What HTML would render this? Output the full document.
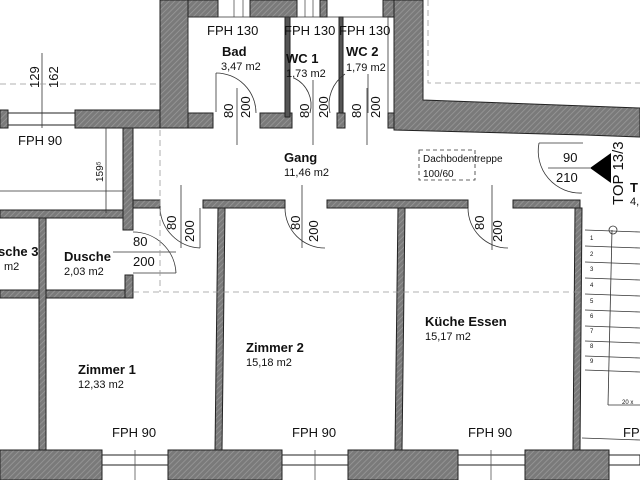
<!DOCTYPE html>
<html><head><meta charset="utf-8"><style>
html,body{margin:0;padding:0;background:#fff}
svg{display:block}
text{font-family:"Liberation Sans",sans-serif;fill:#111}
.b{font-weight:bold;font-size:13px}
.s{font-size:11px}
.m{font-size:13px}
</style></head><body>
<svg width="640" height="480" viewBox="0 0 640 480" xmlns="http://www.w3.org/2000/svg">
<defs>
<pattern id="h" width="4" height="4" patternUnits="userSpaceOnUse" patternTransform="rotate(45)">
<rect width="4" height="4" fill="#7a7a7a"/><line x1="0" y1="0" x2="0" y2="4" stroke="#9a9a9a" stroke-width="1.5"/>
</pattern>
</defs>
<g fill="url(#h)" stroke="#222" stroke-width="1">
<rect x="0" y="110" width="8" height="18"/>
<rect x="75" y="110" width="113" height="18"/>
<rect x="160" y="0" width="28" height="128"/>
<rect x="188" y="0" width="30" height="17"/>
<rect x="188" y="113" width="25" height="15"/>
<rect x="260" y="113" width="32" height="15"/>
<rect x="250" y="0" width="47" height="17"/>
<rect x="320" y="0" width="7" height="17"/>
<rect x="383" y="0" width="40" height="17"/>
<rect x="337" y="113" width="8" height="15"/>
<rect x="388" y="113" width="6" height="15"/>
<polygon points="394,0 423,0 423,100 640,108 640,137 585,135 394,130"/>
<rect x="123" y="128" width="10" height="102"/>
<rect x="133" y="200" width="27" height="8"/>
<rect x="203" y="200" width="82" height="8"/>
<rect x="327" y="200" width="141" height="8"/>
<rect x="513" y="200" width="67" height="8"/>
<rect x="0" y="210" width="123" height="8"/>
<rect x="125" y="275" width="8" height="23"/>
<rect x="0" y="290" width="125" height="8"/>
<rect x="39" y="218" width="7" height="232"/>
<polygon points="218,208 225,208 222,450 215,450"/>
<polygon points="398,208 405,208 402,450 395,450"/>
<polygon points="575,208 582,208 580,450 573,450"/>
<rect x="0" y="450" width="102" height="30"/>
<rect x="168" y="450" width="114" height="30"/>
<rect x="348" y="450" width="110" height="30"/>
<rect x="525" y="450" width="84" height="30"/>
</g>
<g fill="#fff" stroke="#222" stroke-width="1">
<rect x="8" y="113" width="67" height="12"/>
<rect x="102" y="455" width="66" height="10"/>
<rect x="282" y="455" width="66" height="10"/>
<rect x="458" y="455" width="67" height="10"/>
<rect x="609" y="455" width="31" height="10"/>
</g>
<g stroke="#555" stroke-width="0.8">
<line x1="135" y1="450" x2="135" y2="480"/><line x1="315" y1="450" x2="315" y2="480"/><line x1="491" y1="450" x2="491" y2="480"/>
<line x1="234" y1="0" x2="234" y2="17"/><line x1="243" y1="0" x2="243" y2="17"/>
<line x1="305" y1="0" x2="305" y2="17"/><line x1="313" y1="0" x2="313" y2="17"/>
</g>
<g fill="#555" stroke="#222">
<rect x="285" y="17" width="5" height="100"/>
<rect x="339" y="17" width="4" height="96"/>
</g>
<g stroke="#333" stroke-width="0.8" fill="none">
<line x1="188" y1="17" x2="388" y2="17"/>
<line x1="188" y1="17" x2="188" y2="113"/>
<line x1="388" y1="17" x2="388" y2="113"/>
<path d="M216 73 A40 40 0 0 1 256 113"/><line x1="216" y1="73" x2="216" y2="112"/><line x1="237" y1="88" x2="237" y2="145"/>
<path d="M294 78 A30 30 0 0 1 310 113"/><line x1="313" y1="80" x2="313" y2="145"/>
<path d="M345 74 A37 37 0 0 0 330 113"/><line x1="368" y1="74" x2="368" y2="113"/><line x1="367" y1="88" x2="367" y2="145"/>
<path d="M160 208 A42 42 0 0 0 200 248"/><line x1="200" y1="208" x2="200" y2="248"/><line x1="181" y1="185" x2="181" y2="248"/>
<path d="M285 208 A40 40 0 0 0 325 248"/><line x1="302" y1="185" x2="302" y2="248"/>
<path d="M468 208 A40 40 0 0 0 508 248"/><line x1="492" y1="185" x2="492" y2="250"/>
<path d="M133 232 A43 43 0 0 1 176 273"/><line x1="113" y1="252" x2="176" y2="252"/><line x1="133" y1="273" x2="176" y2="273"/>
<path d="M539 143 A42 42 0 0 0 582 193"/><line x1="539" y1="143" x2="583" y2="143"/><line x1="548" y1="168" x2="590" y2="168"/>
<line x1="42" y1="53" x2="42" y2="128"/>
<line x1="106" y1="128" x2="106" y2="213"/>
<line x1="0" y1="191" x2="126" y2="191"/>
<rect x="419" y="150" width="56" height="30" stroke-dasharray="4,3"/>
</g>
<g stroke="#999" stroke-width="0.8" stroke-dasharray="6,4" fill="none">
<line x1="0" y1="84" x2="160" y2="84"/>
<line x1="160" y1="130" x2="160" y2="292"/>
<line x1="133" y1="292" x2="580" y2="292"/>
<polyline points="428,0 428,83 640,83"/>
</g>
<g stroke="#333" stroke-width="0.8" fill="none">
<line x1="585" y1="230" x2="640" y2="232"/>
<line x1="585" y1="246" x2="640" y2="248"/>
<line x1="585" y1="262" x2="640" y2="264"/>
<line x1="585" y1="278" x2="640" y2="280"/>
<line x1="585" y1="294" x2="640" y2="296"/>
<line x1="585" y1="310" x2="640" y2="312"/>
<line x1="585" y1="326" x2="640" y2="328"/>
<line x1="585" y1="341" x2="640" y2="343"/>
<line x1="585" y1="356" x2="640" y2="358"/>
<line x1="585" y1="370" x2="640" y2="372"/>
<line x1="612" y1="230" x2="608" y2="405"/><line x1="608" y1="405" x2="640" y2="405"/>
<circle cx="613" cy="230" r="4"/>
<line x1="582" y1="438" x2="640" y2="440"/>
</g>
<g font-size="6" font-family="Liberation Sans">
<text x="590" y="240">1</text><text x="590" y="256">2</text><text x="590" y="271">3</text><text x="590" y="287">4</text><text x="590" y="303">5</text><text x="590" y="318">6</text><text x="590" y="333">7</text><text x="590" y="348">8</text><text x="590" y="363">9</text><text x="622" y="404">20 x</text>
</g>
<polygon points="590,168 611,153 611,183" fill="#000"/>
<text class="m" x="207" y="35">FPH 130</text>
<text class="m" x="284" y="35">FPH 130</text>
<text class="m" x="339" y="35">FPH 130</text>
<text class="b" x="222" y="56">Bad</text><text class="s" x="221" y="70">3,47 m2</text>
<text class="b" x="286" y="63">WC 1</text><text class="s" x="286" y="77">1,73 m2</text>
<text class="b" x="346" y="56">WC 2</text><text class="s" x="346" y="71">1,79 m2</text>
<text class="b" x="284" y="162">Gang</text><text class="s" x="284" y="176">11,46 m2</text>
<text x="423" y="162" font-size="10">Dachbodentreppe</text><text x="423" y="177" font-size="10">100/60</text>
<text class="m" x="563" y="162">90</text><text class="m" x="556" y="182">210</text>
<text class="m" x="18" y="145">FPH 90</text>
<text class="b" x="-2" y="256">sche 3</text><text class="s" x="4" y="270">m2</text>
<text class="b" x="64" y="261">Dusche</text><text class="s" x="64" y="275">2,03 m2</text>
<text class="m" x="133" y="246">80</text><text class="m" x="133" y="266">200</text>
<text class="b" x="78" y="374">Zimmer 1</text><text class="s" x="78" y="388">12,33 m2</text>
<text class="b" x="246" y="352">Zimmer 2</text><text class="s" x="246" y="366">15,18 m2</text>
<text class="b" x="425" y="326">Küche Essen</text><text class="s" x="425" y="340">15,17 m2</text>
<text class="m" x="112" y="437">FPH 90</text>
<text class="m" x="292" y="437">FPH 90</text>
<text class="m" x="468" y="437">FPH 90</text>
<text class="m" x="623" y="437">FP</text>
<text class="b" x="630" y="192">T</text><text class="s" x="630" y="205">4,</text>
<g>
<text transform="translate(233,118) rotate(-90)" class="m">80</text>
<text transform="translate(250,118) rotate(-90)" class="m">200</text>
<text transform="translate(309,118) rotate(-90)" class="m">80</text>
<text transform="translate(328,118) rotate(-90)" class="m">200</text>
<text transform="translate(361,118) rotate(-90)" class="m">80</text>
<text transform="translate(380,118) rotate(-90)" class="m">200</text>
<text transform="translate(176,230) rotate(-90)" class="m">80</text>
<text transform="translate(194,242) rotate(-90)" class="m">200</text>
<text transform="translate(300,230) rotate(-90)" class="m">80</text>
<text transform="translate(318,242) rotate(-90)" class="m">200</text>
<text transform="translate(484,230) rotate(-90)" class="m">80</text>
<text transform="translate(502,242) rotate(-90)" class="m">200</text>
<text transform="translate(39,88) rotate(-90)" class="m">129</text>
<text transform="translate(58,88) rotate(-90)" class="m">162</text>
<text transform="translate(103,182) rotate(-90)" font-size="10">159⁵</text>
<text transform="translate(623,205) rotate(-90)" font-size="15">TOP 13/3</text>
</g>
</svg>
</body></html>
